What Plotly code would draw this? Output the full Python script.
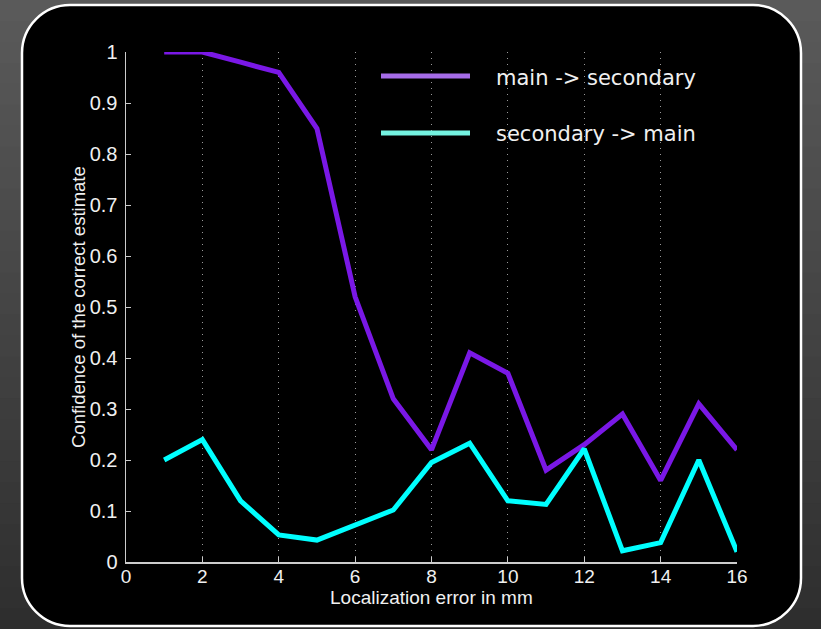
import plotly.graph_objects as go

# ---- data ----
x_mm = [1, 2, 3, 4, 5, 6, 7, 8, 9, 10, 11, 12, 13, 14, 15, 16]
main_to_secondary = [1.0, 1.0, 0.98, 0.96, 0.85, 0.52, 0.32, 0.22, 0.41, 0.37, 0.18, 0.23, 0.29, 0.16, 0.31, 0.22]
secondary_to_main = [0.20, 0.24, 0.12, 0.053, 0.043, 0.073, 0.102, 0.195, 0.233, 0.12, 0.113, 0.222, 0.022, 0.038, 0.20, 0.02]
series_names = ["main -> secondary", "secondary -> main"]
x_ticks = [0, 2, 4, 6, 8, 10, 12, 14, 16]
y_ticks = [0, 0.1, 0.2, 0.3, 0.4, 0.5, 0.6, 0.7, 0.8, 0.9, 1]
y_tick_labels = ["0", "0.1", "0.2", "0.3", "0.4", "0.5", "0.6", "0.7", "0.8", "0.9", "1"]
x_title = "Localization error in mm"
y_title = "Confidence of the correct estimate"

W, H = 821, 629
L, R, T, B = 126, 737, 52, 562  # plot area in page pixels

def px(xp):
    return (xp - L) / (R - L)

def py(yp):
    return (B - yp) / (B - T)

PURPLE = "#7A18E6"
CYAN = "#00FFFF"
PURPLE_LEG = "#A66CE8"
CYAN_LEG = "#74F2E0"
FONT = "Liberation Sans, Arial, sans-serif"
TXT = "#f0f0f0"

fig = go.Figure()
fig.add_trace(go.Scatter(x=x_mm, y=main_to_secondary, mode="lines", name=series_names[0],
                         line=dict(color=PURPLE, width=5), showlegend=False, hoverinfo="skip"))
fig.add_trace(go.Scatter(x=x_mm, y=secondary_to_main, mode="lines", name=series_names[1],
                         line=dict(color=CYAN, width=5), showlegend=False, hoverinfo="skip"))

shapes = []
# background gradient bands
n = 30
for i in range(n):
    t = i / (n - 1)
    g = int(round(0x5a + (0x2e - 0x5a) * t))
    y0 = H * i / n
    y1 = H * (i + 1) / n + 1
    shapes.append(dict(type="rect", xref="paper", yref="paper", layer="below",
                       x0=px(-2), x1=px(W + 2), y0=py(y1), y1=py(y0),
                       fillcolor=f"rgb({g},{g},{g})", line=dict(width=0)))

# rounded black panel with white border
x0, x1, y0, y1, r = 22, 801, 5, 626, 48
k = 0.5523 * r
pts = [
    f"M {px(x0 + r)},{py(y0)}",
    f"L {px(x1 - r)},{py(y0)}",
    f"C {px(x1 - r + k)},{py(y0)} {px(x1)},{py(y0 + r - k)} {px(x1)},{py(y0 + r)}",
    f"L {px(x1)},{py(y1 - r)}",
    f"C {px(x1)},{py(y1 - r + k)} {px(x1 - r + k)},{py(y1)} {px(x1 - r)},{py(y1)}",
    f"L {px(x0 + r)},{py(y1)}",
    f"C {px(x0 + r - k)},{py(y1)} {px(x0)},{py(y1 - r + k)} {px(x0)},{py(y1 - r)}",
    f"L {px(x0)},{py(y0 + r)}",
    f"C {px(x0)},{py(y0 + r - k)} {px(x0 + r - k)},{py(y0)} {px(x0 + r)},{py(y0)}",
    "Z",
]
shapes.append(dict(type="path", xref="paper", yref="paper", layer="below",
                   path=" ".join(pts), fillcolor="black", line=dict(color="white", width=2.5)))

# legend lines
for yy, col in [(76, PURPLE_LEG), (133, CYAN_LEG)]:
    shapes.append(dict(type="line", xref="paper", yref="paper",
                       x0=px(381), x1=px(470), y0=py(yy), y1=py(yy),
                       line=dict(color=col, width=5)))

annotations = []
for yy, name in [(78, series_names[0]), (134, series_names[1])]:
    annotations.append(dict(xref="paper", yref="paper", x=px(494), y=py(yy), text=name,
                            showarrow=False, xanchor="left", yanchor="middle",
                            font=dict(family="DejaVu Sans, Verdana, sans-serif", size=21, color=TXT)))
# axis titles
annotations.append(dict(xref="paper", yref="paper", x=px(431), y=py(597), text=x_title,
                        showarrow=False, xanchor="center", yanchor="middle",
                        font=dict(family=FONT, size=19, color=TXT)))
annotations.append(dict(xref="paper", yref="paper", x=px(78), y=py(307), text=y_title,
                        showarrow=False, xanchor="center", yanchor="middle", textangle=-90,
                        font=dict(family=FONT, size=18.5, color=TXT)))

fig.update_layout(
    width=W, height=H,
    margin=dict(l=L, r=W - R, t=T, b=H - B),
    paper_bgcolor="#444444",
    plot_bgcolor="rgba(0,0,0,0)",
    shapes=shapes,
    annotations=annotations,
    showlegend=False,
    font=dict(family=FONT, color=TXT, size=19),
)
fig.update_xaxes(
    range=[0, 16], tickvals=x_ticks, ticktext=[str(v) for v in x_ticks],
    ticks="inside", ticklen=5, tickcolor="#cccccc", tickwidth=1,
    showline=True, linecolor="#cccccc", linewidth=1.5,
    showgrid=True, gridcolor="#999999", griddash="1px,5px", gridwidth=1,
    zeroline=False,
    tickfont=dict(size=19, color=TXT),
    ticklabelstandoff=-3,
)
fig.update_yaxes(
    range=[0, 1], tickvals=y_ticks, ticktext=y_tick_labels,
    ticks="inside", ticklen=5, tickcolor="#cccccc", tickwidth=1,
    showline=True, linecolor="#cccccc", linewidth=1.5,
    showgrid=False, zeroline=False,
    tickfont=dict(size=20, color=TXT),
    ticklabelstandoff=3,
)

fig.write_html("out.html", config={"displayModeBar": False, "staticPlot": True},
               post_script="document.body.style.margin='0';document.body.style.background='#444';")
